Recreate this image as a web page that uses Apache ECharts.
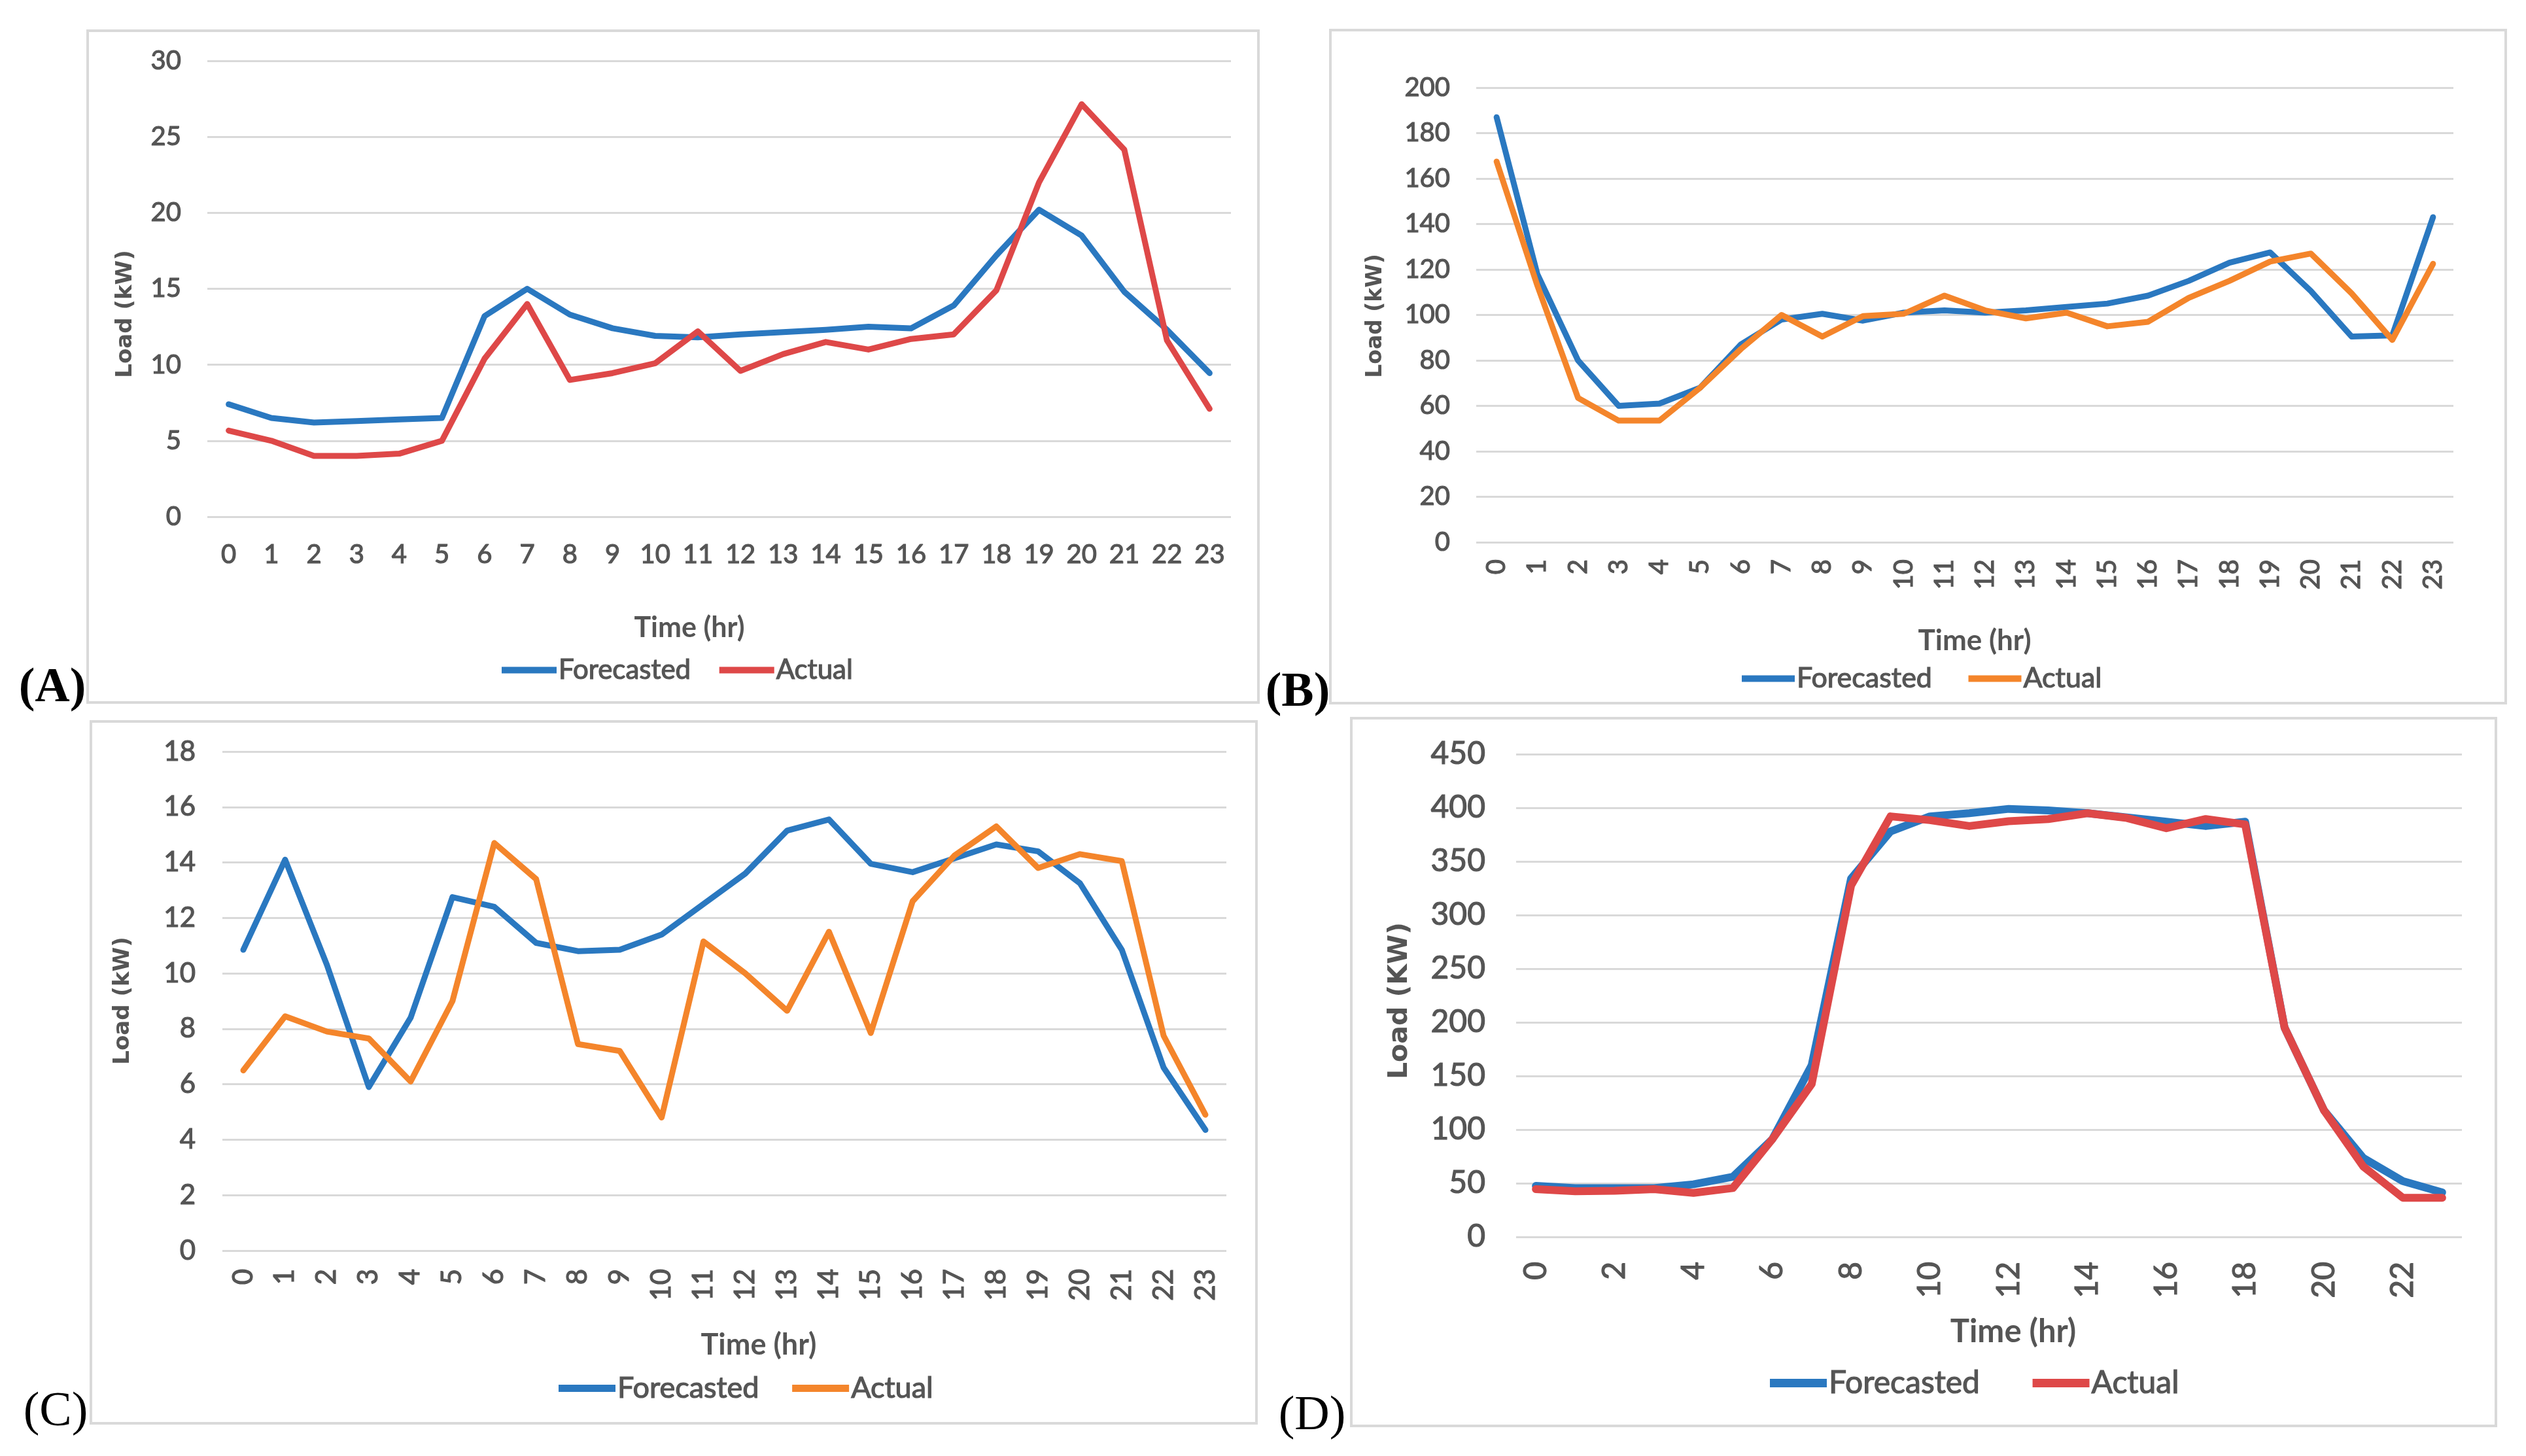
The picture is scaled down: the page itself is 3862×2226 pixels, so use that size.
<!DOCTYPE html>
<html>
<head>
<meta charset="utf-8">
<script src="https://cdn.jsdelivr.net/npm/echarts@6/dist/echarts.min.js"></script>
<style>
html,body{margin:0;padding:0;background:#fff;}
#chart{width:3862px;height:2226px;}
</style>
</head>
<body>
<div id="chart"></div>
<script>
// ---------- data ----------
const hours = ['0','1','2','3','4','5','6','7','8','9','10','11','12','13','14','15','16','17','18','19','20','21','22','23'];

const aForecast = [7.4, 6.5, 6.2, 6.3, 6.4, 6.5, 13.2, 15.0, 13.3, 12.4, 11.9, 11.8, 12.0, 12.15, 12.3, 12.5, 12.4, 13.9, 17.2, 20.2, 18.5, 14.8, 12.3, 9.45];
const aActual   = [5.67, 5.0, 4.0, 4.0, 4.15, 5.0, 10.4, 14.0, 9.0, 9.45, 10.1, 12.2, 9.6, 10.7, 11.5, 11.0, 11.7, 12.0, 14.9, 22.0, 27.15, 24.15, 11.6, 7.1];

const bForecast = [187, 118, 80, 60, 61, 68, 87, 98, 100.5, 97.5, 101, 102, 101, 102, 103.5, 105, 108.5, 115, 123, 127.5, 110.5, 90.5, 91, 143];
const bActual   = [167.5, 113, 63.5, 53.5, 53.5, 68, 85, 100, 90.5, 99.5, 100.5, 108.5, 102, 98.5, 101, 95, 97, 107.5, 115, 123.5, 127, 109.5, 89, 122.5];

const cForecast = [10.85, 14.1, 10.3, 5.9, 8.4, 12.75, 12.4, 11.1, 10.8, 10.85, 11.4, 12.5, 13.6, 15.15, 15.55, 13.95, 13.65, 14.15, 14.65, 14.4, 13.25, 10.85, 6.6, 4.35];
const cActual   = [6.5, 8.45, 7.9, 7.65, 6.1, 9.0, 14.7, 13.4, 7.45, 7.2, 4.8, 11.15, 10.0, 8.65, 11.5, 7.85, 12.6, 14.25, 15.3, 13.8, 14.3, 14.05, 7.75, 4.9];

const dForecast = [47.5, 45.5, 45.5, 45.5, 49, 56, 91, 160, 334, 378, 392, 395, 399, 397.5, 395, 391, 387, 383, 387, 195, 118, 73.5, 52, 41.5];
const dActual   = [44.5, 42.5, 43, 44.5, 41, 45.5, 91, 142.5, 327.5, 392, 388.5, 383, 387.5, 389.5, 395, 390.5, 381, 389.5, 384.5, 195, 118, 65.5, 36.5, 36.5];

const yMax = [30, 200, 18, 450];
const yStep = [5, 20, 2, 50];
const seriesNames = ['Forecasted', 'Actual'];
const panelLetters = ['(A)', '(B)', '(C)', '(D)'];
const xTitle = 'Time (hr)';
const yTitles = ['Load (kW)', 'Load (kW)', 'Load (kW)', 'Load (KW)'];

// ---------- styling / layout ----------
const BLUE = '#2a78c0', RED = '#de4848', ORANGE = '#f4852b';
const TXT = '#555555', GRID = '#d9d9d9';

const panels = [
  {grid:{left:317, top:93, width:1565, height:697}, fs:40, rot:0, lblInt:0, xMargin:38, yMargin:40, lw:9,
   colors:[BLUE, RED], frame:[134,47,1790,1027],
   yName:[192,480,34], xName:[1054,960,43], legend:{left:767, y:1024, fs:42, w:84, h:10, gap:43},
   letter:[80,1053,'bold']},
  {grid:{left:2257, top:134, width:1494, height:695}, fs:40, rot:90, lblInt:0, xMargin:26, yMargin:40, lw:9,
   colors:[BLUE, ORANGE], frame:[2034,46,1797,1029],
   yName:[2103,483,33], xName:[3019,980,44], legend:{left:2663, y:1037, fs:43, w:81, h:10, gap:55},
   letter:[1984,1060,'bold']},
  {grid:{left:340, top:1149, width:1535, height:763}, fs:42, rot:90, lblInt:0, xMargin:28, yMargin:41, lw:9,
   colors:[BLUE, ORANGE], frame:[139,1103,1782,1073],
   yName:[188,1530,34], xName:[1160,2056,45], legend:{left:854, y:2122, fs:45, w:87, h:11, gap:50},
   letter:[85,2160,'normal']},
  {grid:{left:2318, top:1153, width:1446, height:738}, fs:48, rot:90, lblInt:1, xMargin:38, yMargin:47, lw:12,
   colors:[BLUE, RED], frame:[2066,1098,1750,1082],
   yName:[2140,1530,41], xName:[3078,2036,49], legend:{left:2706, y:2114, fs:48, w:87, h:13, gap:80},
   letter:[2006,2166,'normal']}
];

const seriesData = [[aForecast, aActual], [bForecast, bActual], [cForecast, cActual], [dForecast, dActual]];

const grids = [], xAxes = [], yAxes = [], series = [], legends = [], graphics = [];
const boldish = {textBorderColor:TXT, textBorderWidth:1.2};

panels.forEach((p, i) => {
  grids.push(Object.assign({containLabel:false}, p.grid));
  xAxes.push({
    type:'category', gridIndex:i, data:hours, boundaryGap:true,
    axisLine:{show:false}, axisTick:{show:false},
    axisLabel:Object.assign({interval:p.lblInt, rotate:p.rot, margin:p.xMargin, color:TXT, fontFamily:'Lato', fontSize:p.fs}, boldish)
  });
  yAxes.push({
    type:'value', gridIndex:i, min:0, max:yMax[i], interval:yStep[i],
    axisLine:{show:false}, axisTick:{show:false},
    axisLabel:Object.assign({margin:p.yMargin, color:TXT, fontFamily:'Lato', fontSize:p.fs}, boldish),
    splitLine:{lineStyle:{color:GRID, width:3}}
  });
  const names = seriesNames.map(n => n + ' #' + i);
  seriesData[i].forEach((arr, k) => {
    series.push({
      type:'line', name:names[k], xAxisIndex:i, yAxisIndex:i, data:arr,
      showSymbol:false, symbol:'none', smooth:false,
      lineStyle:{color:p.colors[k], width:p.lw, cap:'round', join:'round'},
      itemStyle:{color:p.colors[k]}
    });
  });
  legends.push({
    data:names, left:p.legend.left, top:p.legend.y - p.legend.fs/2, orient:'horizontal',
    padding:0, itemGap:p.legend.gap, itemWidth:p.legend.w, itemHeight:p.legend.h, icon:'rect',
    selectedMode:false,
    formatter: n => n.split(' #')[0],
    textStyle:Object.assign({color:TXT, fontFamily:'Lato', fontSize:p.legend.fs, padding:[0,0,0,-2]}, boldish)
  });
  // panel frame
  graphics.push({type:'rect', shape:{x:p.frame[0], y:p.frame[1], width:p.frame[2], height:p.frame[3]},
    style:{fill:null, stroke:GRID, lineWidth:4}, z:-1, silent:true});
  // y axis title
  graphics.push({type:'text', x:p.yName[0], y:p.yName[1], rotation:Math.PI/2,
    style:{text:yTitles[i], fill:TXT, font:'bold ' + p.yName[2] + 'px "DejaVu Sans"', textAlign:'center', textVerticalAlign:'middle'}});
  // x axis title
  graphics.push({type:'text', x:p.xName[0], y:p.xName[1],
    style:{text:xTitle, fill:TXT, font:'bold ' + p.xName[2] + 'px Lato', textAlign:'center', textVerticalAlign:'middle'}});
  // panel letter
  graphics.push({type:'text', x:p.letter[0], y:p.letter[1],
    style:{text:panelLetters[i], fill:'#000', font:p.letter[2] + ' 74px "Liberation Serif"', textAlign:'center', textVerticalAlign:'middle'}});
});

const chart = echarts.init(document.getElementById('chart'), null, {renderer:'canvas'});
chart.setOption({
  backgroundColor:'#ffffff',
  animation:false,
  grid:grids, xAxis:xAxes, yAxis:yAxes, series:series, legend:legends,
  graphic:graphics
});
</script>
</body>
</html>
